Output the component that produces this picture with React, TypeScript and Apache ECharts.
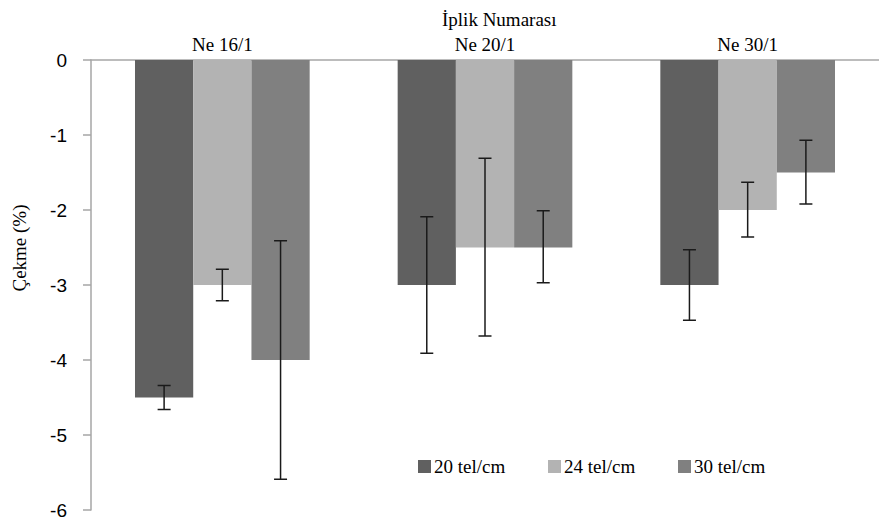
import React, { useEffect, useRef } from "react";
import * as echarts from "echarts";

// Yarn counts (categories) and weft densities (series)
const yarnCounts = ["Ne 16/1", "Ne 20/1", "Ne 30/1"];
const densities = ["20 tel/cm", "24 tel/cm", "30 tel/cm"];

// Mean shrinkage (%) per density, ordered by yarn count
const shrink20 = [-4.5, -3, -3];
const shrink24 = [-3, -2.5, -2];
const shrink30 = [-4, -2.5, -1.5];

// Error bar bounds (upper = closer to zero, lower = more negative)
const upper20 = [-4.34, -2.09, -2.53];
const lower20 = [-4.66, -3.91, -3.47];
const upper24 = [-2.79, -1.31, -1.63];
const lower24 = [-3.21, -3.68, -2.36];
const upper30 = [-2.41, -2.01, -1.07];
const lower30 = [-5.59, -2.97, -1.92];

const yTicks = [0, -1, -2, -3, -4, -5, -6];

const colors = ["#606060", "#b3b3b3", "#808080"];
const serif = "'Liberation Serif', 'Times New Roman', serif";
const sans = "'Liberation Sans', Arial, sans-serif";
const CAT_GAP = 0.335;

export default function App() {
  const ref = useRef<HTMLDivElement>(null);

  useEffect(() => {
    if (!ref.current) return;
    const chart = echarts.init(ref.current, null, { renderer: "svg" });

    const means = [shrink20, shrink24, shrink30];
    const uppers = [upper20, upper24, upper30];
    const lowers = [lower20, lower24, lower30];

    const barSeries = densities.map((name, k) => ({
      name,
      type: "bar",
      data: means[k],
      barGap: "0%",
      barCategoryGap: CAT_GAP * 100 + "%",
      itemStyle: { color: colors[k] },
    }));

    const errSeries = densities.map((name, k) => ({
      name: name + " hata",
      type: "custom",
      data: yarnCounts.map((_, i) => [i, uppers[k][i], lowers[k][i]]),
      encode: { x: 0, y: [1, 2] },
      z: 10,
      renderItem: (params: any, api: any) => {
        const cat = api.value(0);
        const top = api.coord([cat, api.value(1)]);
        const bot = api.coord([cat, api.value(2)]);
        const band = api.size([1, 0])[0];
        const barW = (band * (1 - CAT_GAP)) / 3;
        const x = top[0] + (k - 1) * barW;
        const cap = 6.5;
        const style = { stroke: "#1a1a1a", lineWidth: 1.5 };
        return {
          type: "group",
          children: [
            { type: "line", shape: { x1: x, y1: top[1], x2: x, y2: bot[1] }, style },
            { type: "line", shape: { x1: x - cap, y1: top[1], x2: x + cap, y2: top[1] }, style },
            { type: "line", shape: { x1: x - cap, y1: bot[1], x2: x + cap, y2: bot[1] }, style },
          ],
        };
      },
    }));

    const legendLefts = [413, 543, 673];

    chart.setOption({
      animation: false,
      backgroundColor: "#ffffff",
      title: {
        text: "İplik Numarası",
        left: 437,
        top: 5,
        textStyle: { fontFamily: serif, fontSize: 19, fontWeight: "normal", color: "#000" },
      },
      legend: densities.map((name, k) => ({
        data: [name],
        left: legendLefts[k],
        top: 452,
        itemWidth: 13,
        itemHeight: 13,
        itemGap: 0,
        icon: "rect",
        textStyle: { fontFamily: serif, fontSize: 19, color: "#000", padding: [0, 0, 0, -2] },
      })),
      grid: { left: 91, top: 60, width: 797, height: 450 },
      xAxis: {
        type: "category",
        position: "top",
        data: yarnCounts,
        axisLine: { lineStyle: { color: "#a6a6a6", width: 1.5 } },
        axisTick: { inside: true, length: 7, lineStyle: { color: "#a6a6a6", width: 1.5 } },
        axisLabel: { fontFamily: serif, fontSize: 19, color: "#000", margin: 6 },
      },
      yAxis: {
        type: "value",
        min: yTicks[yTicks.length - 1],
        max: yTicks[0],
        interval: 1,
        axisLine: { show: true, lineStyle: { color: "#a6a6a6", width: 1.5 } },
        axisTick: { show: true, length: 8, lineStyle: { color: "#a6a6a6", width: 1.5 } },
        axisLabel: { fontFamily: sans, fontSize: 19, color: "#000", margin: 24 },
        splitLine: { show: false },
      },
      graphic: [
        {
          type: "text",
          x: 19,
          y: 248,
          rotation: Math.PI / 2,
          style: {
            text: "Çekme (%)",
            fontFamily: serif,
            fontSize: 19,
            fill: "#000",
            align: "center",
            verticalAlign: "middle",
          },
        },
      ],
      series: [...barSeries, ...errSeries],
    });

    return () => chart.dispose();
  }, []);

  return (
    <div
      ref={ref}
      style={{ position: "fixed", left: 0, top: 0, width: 879, height: 521 }}
    />
  );
}
